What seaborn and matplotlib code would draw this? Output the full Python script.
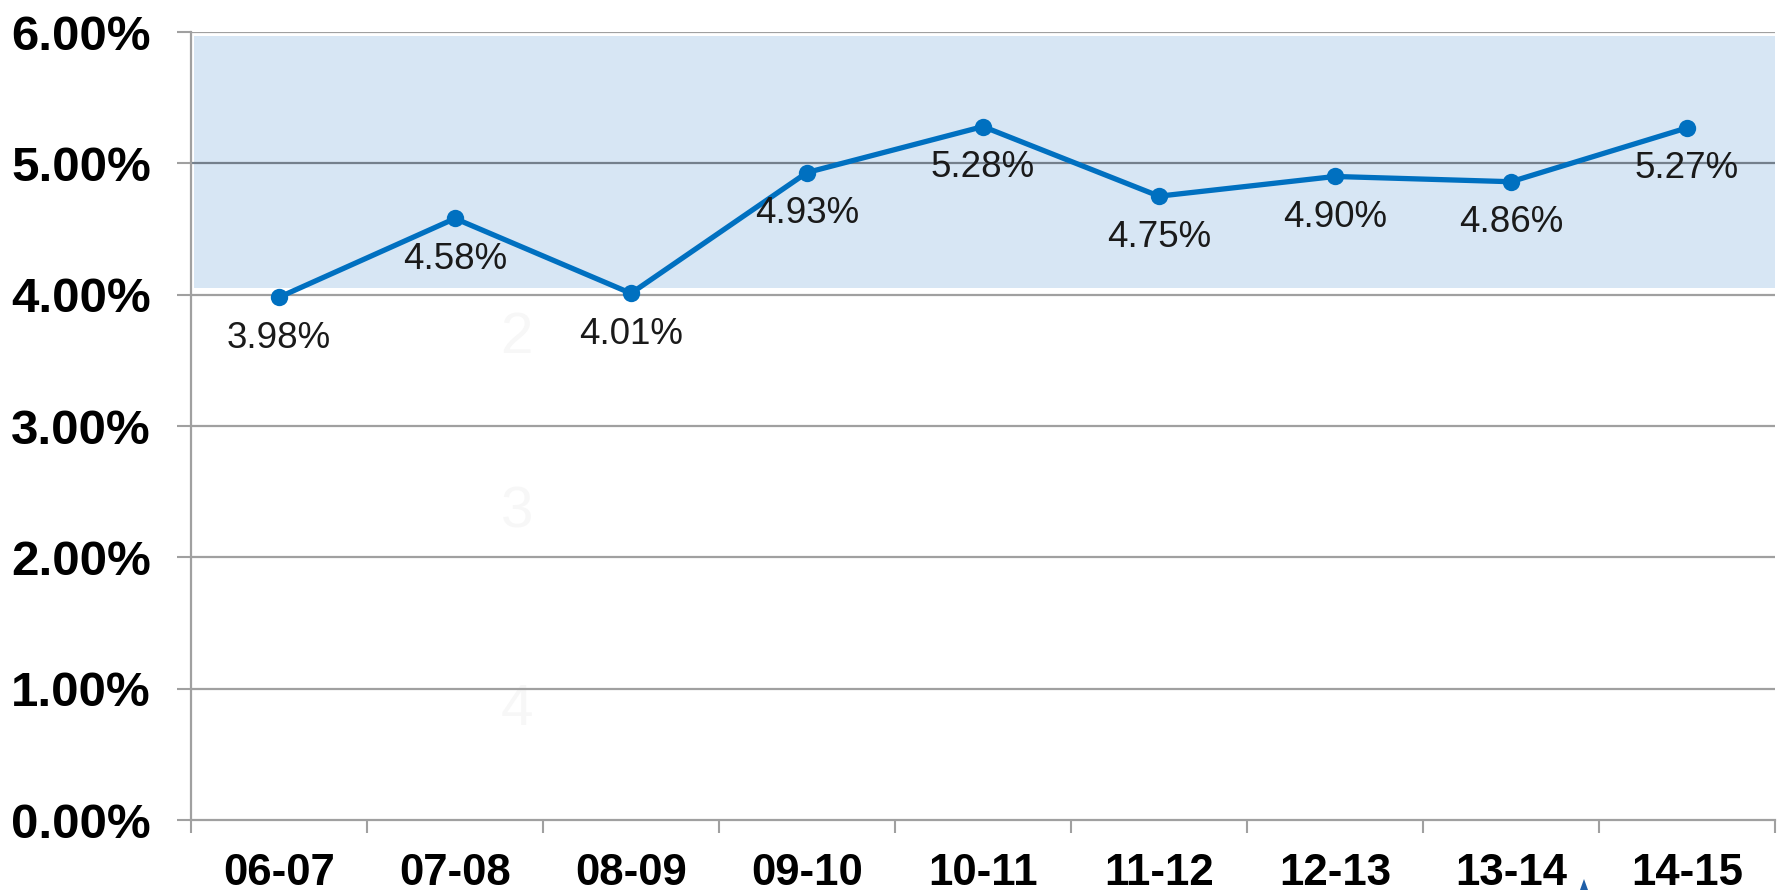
import numpy as np
import pandas as pd
import matplotlib
matplotlib.use("Agg")
import matplotlib.pyplot as plt
from matplotlib.patches import Polygon
import seaborn as sns

# ---- data ----
categories = ["06-07", "07-08", "08-09", "09-10", "10-11", "11-12", "12-13", "13-14", "14-15"]
values = [3.98, 4.58, 4.01, 4.93, 5.28, 4.75, 4.90, 4.86, 5.27]
value_labels = ["3.98%", "4.58%", "4.01%", "4.93%", "5.28%", "4.75%", "4.90%", "4.86%", "5.27%"]
y_ticks = [0, 1, 2, 3, 4, 5, 6]
y_tick_labels = ["0.00%", "1.00%", "2.00%", "3.00%", "4.00%", "5.00%", "6.00%"]
band_range = [4.05, 5.97]
ghost_digits = ["2", "3", "4"]
ghost_y = [3.67, 2.34, 0.84]

sns.set_theme(style="white")
plt.rcParams["font.family"] = ["Liberation Sans", "DejaVu Sans"]

W, H, DPI = 1781, 890, 100
fig = plt.figure(figsize=(W / DPI, H / DPI), dpi=DPI)
ax = fig.add_axes([191 / W, 1 - 820 / H, 1584 / W, 788 / H])

df = pd.DataFrame({"pos": np.arange(len(categories)), "val": values})

# shaded band
ax.axhspan(band_range[0], band_range[1], xmin=0.002, xmax=1.0,
           color="#D7E6F4", zorder=0.5, lw=0)

# gridlines
for t in y_ticks[1:]:
    inside = band_range[0] < t < band_range[1]
    ax.axhline(t, color="#74808C" if inside else "#A0A0A0", lw=1.6, zorder=1)

sns.lineplot(data=df, x="pos", y="val", ax=ax, color="#0070C0", lw=3.8,
             marker="o", markersize=12.5, markeredgewidth=0, sort=False, zorder=3)

for x, y, lab in zip(df["pos"], df["val"], value_labels):
    ax.annotate(lab, (x, y), xytext=(0, -29.5), textcoords="offset points",
                ha="center", va="center", fontsize=26.5, color="#1A1A1A", zorder=4)

for d, gy in zip(ghost_digits, ghost_y):
    ax.text(1.35, gy, d, ha="center", va="center", fontsize=42,
            color="#F7F7F7", zorder=0.8)

ax.set_xlim(-0.5, len(categories) - 0.5)
ax.set_ylim(0, 6)
ax.set_xlabel("")
ax.set_ylabel("")

ax.set_yticks(y_ticks)
ax.set_yticklabels(y_tick_labels, fontsize=35.5, fontweight="bold", color="black")
ax.set_xticks(np.arange(len(categories)))
ax.set_xticklabels(categories, fontsize=31.5, fontweight="bold", color="black")
ax.set_xticks(np.arange(-0.5, len(categories)), minor=True)

ax.tick_params(axis="y", which="major", length=10, width=1.5, color="#A0A0A0",
               direction="out", pad=19, left=True)
ax.tick_params(axis="x", which="major", length=0, pad=24, bottom=True)
ax.tick_params(axis="x", which="minor", length=9, width=1.5, color="#A0A0A0",
               direction="out", bottom=True)

for s in ["top", "right"]:
    ax.spines[s].set_visible(False)
for s in ["left", "bottom"]:
    ax.spines[s].set_color("#A0A0A0")
    ax.spines[s].set_linewidth(1.6)
ax.set_facecolor("white")

# small blue wedge artifact at the bottom edge
tri = Polygon([[1580 / W, 0.0], [1588 / W, 0.0], [1584 / W, 11 / H]],
              closed=True, transform=fig.transFigure, color="#1F5FA8", lw=0)
fig.patches.append(tri)

fig.savefig("out.png", dpi=DPI, facecolor="white")
